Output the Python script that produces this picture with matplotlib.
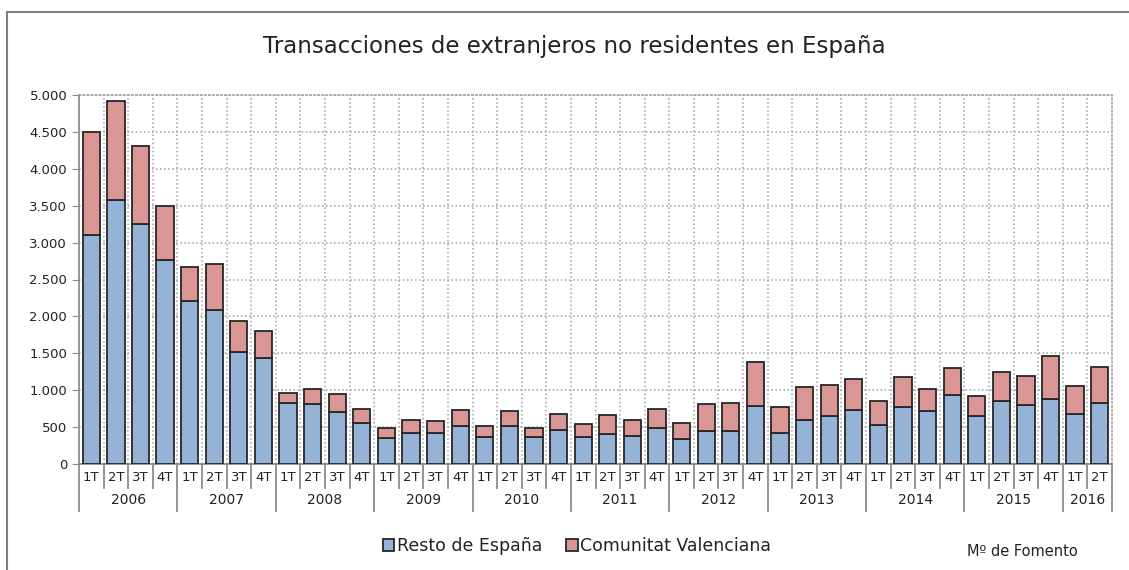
import matplotlib.pyplot as plt
import matplotlib.ticker as mticker
from matplotlib.patches import Rectangle
import numpy as np

# Datos (transacciones por trimestre)
years = ['2006', '2007', '2008', '2009', '2010', '2011', '2012', '2013', '2014', '2015', '2016']
quarters_per_year = [4, 4, 4, 4, 4, 4, 4, 4, 4, 4, 2]

resto = [3100, 3575, 3249, 2769,
         2204, 2081, 1516, 1434,
         824, 814, 710, 552,
         351, 414, 414, 509,
         369, 518, 369, 455,
         360, 410, 374, 491,
         338, 446, 446, 784,
         419, 595, 649, 730,
         523, 766, 712, 941,
         649, 860, 797, 878,
         680, 820]

total = [4493, 4919, 4308, 3493,
         2665, 2710, 1932, 1796,
         959, 1023, 946, 751,
         486, 590, 581, 725,
         509, 716, 491, 671,
         536, 658, 595, 739,
         559, 811, 820, 1387,
         775, 1045, 1077, 1153,
         856, 1176, 1023, 1302,
         928, 1248, 1194, 1459,
         1063, 1320]

comunitat = [t - r for t, r in zip(total, resto)]

quarter_labels = []
for n in quarters_per_year:
    quarter_labels += [f'{q}T' for q in range(1, n + 1)]

blue = '#95B3D7'
red = '#D99694'
edge = '#262626'
grey = '#8c8c8c'

plt.rcParams['font.family'] = ['DejaVu Sans']

fig = plt.figure(figsize=(11.29, 5.70), dpi=100)
ax = fig.add_axes([79 / 1129, 1 - 464 / 570, (1112 - 79) / 1129, (464 - 95) / 570])

x = np.arange(len(resto))
ax.bar(x, resto, width=0.7, color=blue, edgecolor=edge, linewidth=1.3,
       label='Resto de España', zorder=3)
ax.bar(x, comunitat, width=0.7, bottom=resto, color=red, edgecolor=edge,
       linewidth=1.3, label='Comunitat Valenciana', zorder=3)

ax.set_xlim(-0.5, len(resto) - 0.5)
ax.set_ylim(0, 5000)
ax.yaxis.set_major_locator(mticker.MultipleLocator(500))
ax.yaxis.set_major_formatter(mticker.FuncFormatter(lambda v, p: f'{v:,.0f}'.replace(',', '.')))
ax.tick_params(axis='y', labelsize=9.5, length=5, color=grey, labelcolor='#222222')

# rejilla punteada
ax.set_xticks(x)
ax.set_xticklabels(quarter_labels, fontsize=9.5, color='#222222')
ax.tick_params(axis='x', length=0, pad=5)
ax.set_xticks(x[:-1] + 0.5, minor=True)
ax.tick_params(axis='x', which='minor', length=0)
ax.grid(axis='y', which='major', linestyle=':', color='#a0a0a0', linewidth=1.1, zorder=0)
ax.grid(axis='x', which='minor', linestyle=':', color='#a0a0a0', linewidth=1.1, zorder=0)

for s in ['top', 'right']:
    ax.spines[s].set_linestyle(':')
    ax.spines[s].set_color('#a0a0a0')
    ax.spines[s].set_linewidth(1.1)
for s in ['left', 'bottom']:
    ax.spines[s].set_color(grey)
    ax.spines[s].set_linewidth(1.3)

# separadores de trimestres y años
trans = ax.get_xaxis_transform()
pos = -0.5
for yr, n in zip(years, quarters_per_year):
    ax.plot([pos, pos], [0, -0.127], transform=trans, color=grey, lw=1.3, clip_on=False)
    for q in range(1, n):
        ax.plot([pos + q, pos + q], [0, -0.065], transform=trans, color=grey, lw=1.3, clip_on=False)
    ax.text(pos + n / 2, -0.097, yr, transform=trans, ha='center', va='center',
            fontsize=10, color='#222222')
    pos += n
ax.plot([pos, pos], [0, -0.127], transform=trans, color=grey, lw=1.3, clip_on=False)

fig.text(574 / 1129, 1 - 47 / 570, 'Transacciones de extranjeros no residentes en España',
         ha='center', va='center', fontsize=16.5, color='#222222')

fig.legend(loc='center', bbox_to_anchor=(577 / 1129, 1 - 546 / 570), ncol=2, frameon=False,
           fontsize=12.5, handlelength=0.65, handleheight=0.65, handletextpad=0.15,
           columnspacing=1.4, labelcolor='#222222')

fig.text(1022 / 1129, 1 - 551 / 570, 'Mº de Fomento', ha='center', va='center',
         fontsize=10.5, color='#222222')

# marco exterior
fig.patches.append(Rectangle((7 / 1129, -0.1), 1.2, 1.1 - 12 / 570, transform=fig.transFigure,
                             fill=False, edgecolor='#808080', linewidth=1.5))

fig.savefig('out.png', dpi=100)
